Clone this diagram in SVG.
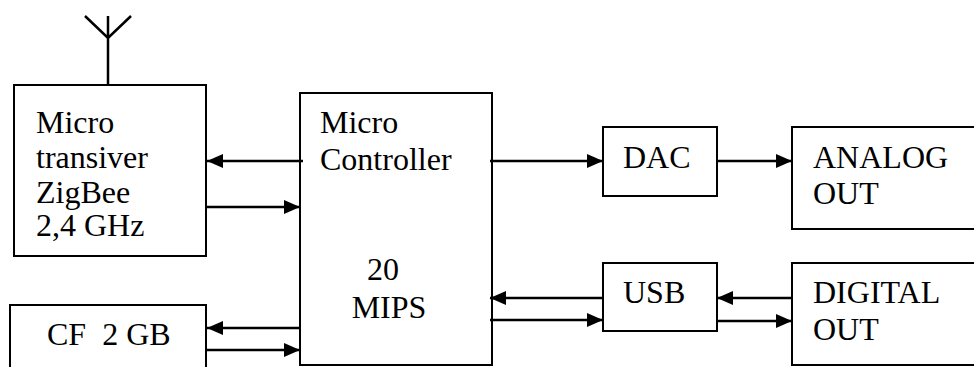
<svg xmlns="http://www.w3.org/2000/svg" width="974" height="367" viewBox="0 0 974 367">
<defs>
<marker id="ah" markerWidth="16" markerHeight="14" refX="16" refY="7" orient="auto" markerUnits="userSpaceOnUse">
<path d="M0,0 L16,7 L0,14 Z" fill="#000"/>
</marker>
<style>
.box{fill:#fff;stroke:#000;stroke-width:2}
.t{font-family:'Liberation Serif','Times New Roman','DejaVu Serif',serif;font-size:32px;fill:#000;white-space:pre}
.c{stroke:#000;stroke-width:2.5;fill:none}
.a{stroke:#000;stroke-width:2.5;fill:none;marker-end:url(#ah)}
</style>
</defs>
<rect width="974" height="367" fill="#fff"/>
<g id="transceiver">
<path class="c" d="M108,85 V16 M85,16 L108,38 L131,16" stroke-width="2"/>
<rect class="box" x="14" y="85" width="192" height="171"/>
<text class="t" x="36" y="133">Micro</text>
<text class="t" x="36" y="168">transiver</text>
<text class="t" x="36" y="203">ZigBee</text>
<text class="t" x="36" y="236">2,4 GHz</text>
</g>
<g id="cf">
<rect class="box" x="10" y="305" width="196" height="70"/>
<text class="t" x="47" y="345" xml:space="preserve">CF  2 GB</text>
</g>
<g id="mcu">
<rect class="box" x="300" y="93" width="192" height="272" stroke-width="2.5"/>
<text class="t" x="320" y="133">Micro</text>
<text class="t" x="320" y="170">Controller</text>
<text class="t" x="383" y="280" text-anchor="middle">20</text>
<text class="t" x="389" y="318" text-anchor="middle">MIPS</text>
</g>
<g id="dac">
<rect class="box" x="603" y="127" width="114" height="69"/>
<text class="t" x="623" y="168">DAC</text>
</g>
<g id="usb">
<rect class="box" x="603" y="263" width="114" height="68"/>
<text class="t" x="623" y="303">USB</text>
</g>
<g id="analog">
<rect class="box" x="792" y="127" width="200" height="102"/>
<text class="t" x="813" y="168">ANALOG</text>
<text class="t" x="813" y="204">OUT</text>
</g>
<g id="digital">
<rect class="box" x="792" y="263" width="200" height="102"/>
<text class="t" x="813" y="303">DIGITAL</text>
<text class="t" x="813" y="340">OUT</text>
</g>
<g id="connectors">
<line class="a" x1="303" y1="161" x2="207" y2="161"/>
<line class="a" x1="206" y1="207" x2="300" y2="207"/>
<line class="a" x1="300" y1="328" x2="207" y2="328"/>
<line class="a" x1="206" y1="350" x2="300" y2="350"/>
<line class="a" x1="490" y1="161" x2="603" y2="161"/>
<line class="a" x1="717" y1="161" x2="792" y2="161"/>
<line class="a" x1="603" y1="298" x2="490" y2="298"/>
<line class="a" x1="490" y1="320" x2="603" y2="320"/>
<line class="a" x1="792" y1="298" x2="717" y2="298"/>
<line class="a" x1="717" y1="321" x2="792" y2="321"/>
</g>
</svg>
